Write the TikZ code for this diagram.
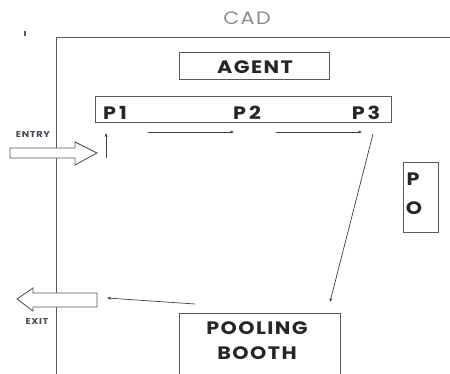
\documentclass[tikz,border=0pt]{standalone}
\usepackage{fontspec}
\newfontfamily\lab{Poppins}[FakeStretch=1.15,LetterSpace=8]
\usetikzlibrary{arrows.meta}
\definecolor{ln}{gray}{0.35}
\definecolor{cadgray}{gray}{0.55}
\definecolor{tagc}{RGB}{70,70,85}
\begin{document}
\begin{tikzpicture}[x=1pt,y=-1pt,
  box/.style={draw=ln,line width=1pt,inner sep=0pt},
  lbl/.style={font=\lab\bfseries\fontsize{18}{19}\selectfont,text=black!85,inner sep=0pt},
  tag/.style={font=\lab\bfseries\fontsize{8.5}{9}\selectfont,text=tagc,inner sep=0pt},
  flow/.style={draw=black!75,line width=0.7pt,-{Stealth[length=4pt,width=3pt]}},
  blk/.style={draw=ln,line width=0.9pt,fill=white,line join=miter}]
\useasboundingbox (0,0) rectangle (450,374);
% title
\node[font=\lab\fontsize{18}{19}\selectfont,text=cadgray,inner sep=0pt] (cad) at (247,18) {CAD};
\draw[ln,line width=1.2pt] (25,31) -- (25,36);
% frame
\draw[ln,line width=1pt] (56,374) -- (56,38) -- (450,38);
% agent
\draw[box] (179,53) rectangle (329,80);
\node[lbl] (agent) at (255,67) {AGENT};
% P row
\draw[box] (95,97) rectangle (391,123);
\node[lbl] (p1) at (115,113) {P\kern3pt1};
\node[lbl] (p2) at (247,113) {P\kern3pt2};
\node[lbl] (p3) at (366,113) {P\kern3pt3};
% PO
\draw[box] (403,163) rectangle (438,233);
\node[lbl] (pp) at (413,179) {P};
\node[lbl] (po) at (414,208) {O};
% pooling booth
\draw[box] (179,374) -- (179,313) -- (340,313) -- (340,374);
\node[lbl] (pool) at (257,328) {POOLING};
\node[lbl] (booth) at (257,353) {BOOTH};
% entry arrow
\draw[blk] (10,148) -- (75,148) -- (75,142) -- (97,153) -- (75,165) -- (75,158) -- (10,158) -- cycle;
\node[tag] (entry) at (33,135) {ENTRY};
% exit arrow
\draw[blk] (17,299) -- (33,288) -- (33,293) -- (97,293) -- (97,307) -- (33,307) -- (33,311) -- cycle;
\node[tag] (exit) at (37,322) {EXIT};
% flow coordinates
\coordinate (u0) at (106,158);
\coordinate (u1) at (106,133);
\coordinate (a0) at (148,132);
\coordinate (a1) at (234,132);
\coordinate (b0) at (276,132);
\coordinate (b1) at (362,132);
\coordinate (c0) at (373,134);
\coordinate (c1) at (330,302);
\coordinate (d0) at (195,304);
\coordinate (d1) at (107,298);
\draw[flow] (u0) -- (u1);
\draw[flow] (a0) -- (a1);
\draw[flow] (b0) -- (b1);
\draw[flow] (c0) -- (c1);
\draw[flow] (d0) -- (d1);
\end{tikzpicture}
\end{document}
